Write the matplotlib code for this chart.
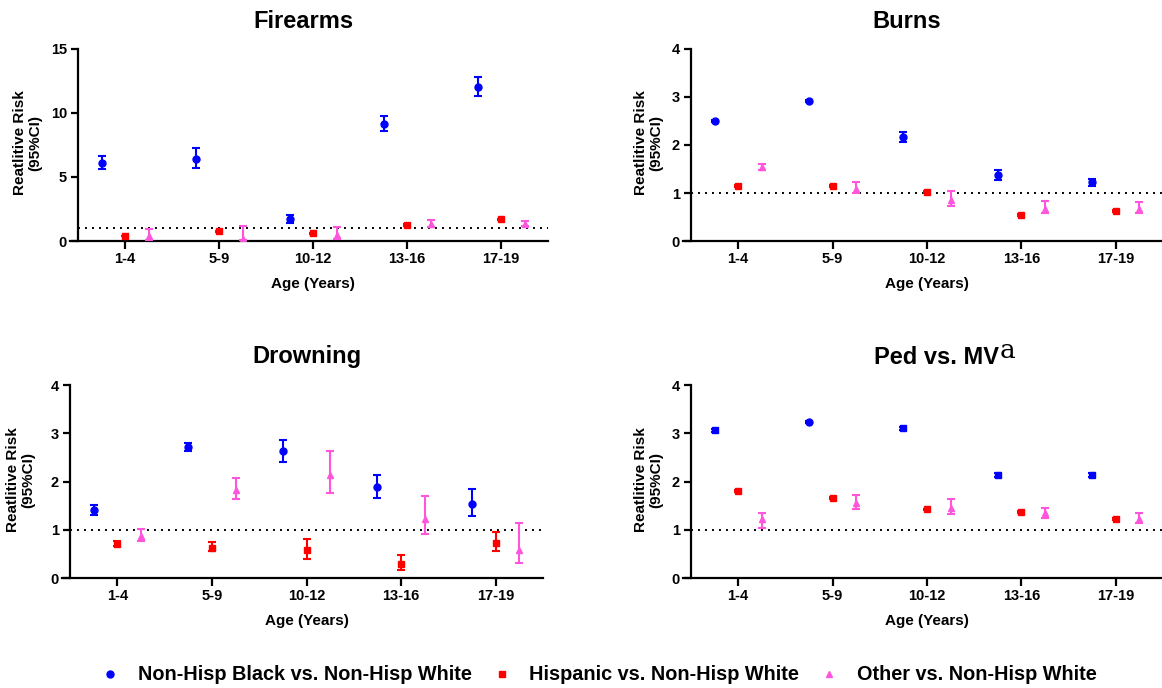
import numpy as np
import matplotlib
matplotlib.use('Agg')
import matplotlib.pyplot as plt
from matplotlib.lines import Line2D

plt.rcParams['font.family'] = ['Liberation Sans', 'DejaVu Sans']
plt.rcParams['font.weight'] = 'bold'
plt.rcParams['axes.labelweight'] = 'bold'

ages = ['1-4', '5-9', '10-12', '13-16', '17-19']
groups = ['Non-Hisp Black vs. Non-Hisp White',
          'Hispanic vs. Non-Hisp White',
          'Other vs. Non-Hisp White']

# Firearms: (value, lower CI, upper CI)
fire_black = [6.11, 6.43, 1.70, 9.15, 12.07]
fire_black_lo = [5.62, 5.70, 1.41, 8.57, 11.34]
fire_black_hi = [6.66, 7.24, 2.04, 9.77, 12.78]
fire_hisp = [0.39, 0.76, 0.60, 1.25, 1.70]
fire_hisp_lo = [0.36, 0.72, 0.57, 1.21, 1.65]
fire_hisp_hi = [0.42, 0.80, 0.63, 1.29, 1.75]
fire_other = [0.42, 0.18, 0.44, 1.36, 1.36]
fire_other_lo = [0.10, 0.05, 0.18, 1.10, 1.15]
fire_other_hi = [0.97, 1.15, 1.10, 1.65, 1.59]

# Burns
burn_black = [2.50, 2.91, 2.17, 1.38, 1.22]
burn_black_lo = [2.48, 2.89, 2.07, 1.28, 1.14]
burn_black_hi = [2.52, 2.93, 2.27, 1.47, 1.29]
burn_hisp = [1.15, 1.15, 1.02, 0.55, 0.63]
burn_hisp_lo = [1.13, 1.13, 0.99, 0.53, 0.61]
burn_hisp_hi = [1.17, 1.17, 1.05, 0.57, 0.65]
burn_other = [1.54, 1.09, 0.86, 0.67, 0.67]
burn_other_lo = [1.47, 0.99, 0.73, 0.59, 0.59]
burn_other_hi = [1.61, 1.22, 1.04, 0.83, 0.81]

# Drowning
drown_black = [1.41, 2.72, 2.63, 1.89, 1.54]
drown_black_lo = [1.31, 2.63, 2.41, 1.66, 1.28]
drown_black_hi = [1.51, 2.80, 2.86, 2.13, 1.84]
drown_hisp = [0.71, 0.63, 0.57, 0.28, 0.73]
drown_hisp_lo = [0.66, 0.55, 0.40, 0.17, 0.55]
drown_hisp_hi = [0.76, 0.75, 0.81, 0.48, 0.95]
drown_other = [0.87, 1.83, 2.13, 1.22, 0.58]
drown_other_lo = [0.77, 1.64, 1.76, 0.91, 0.31]
drown_other_hi = [1.02, 2.08, 2.63, 1.69, 1.15]

# Pedestrian vs. motor vehicle
ped_black = [3.06, 3.23, 3.10, 2.13, 2.13]
ped_black_lo = [3.03, 3.21, 3.07, 2.09, 2.09]
ped_black_hi = [3.09, 3.25, 3.13, 2.17, 2.17]
ped_black_markers = ['s', 'o', 's', 's', 's']
ped_hisp = [1.80, 1.65, 1.42, 1.36, 1.23]
ped_hisp_lo = [1.78, 1.63, 1.40, 1.34, 1.21]
ped_hisp_hi = [1.82, 1.67, 1.44, 1.38, 1.25]
ped_other = [1.22, 1.56, 1.46, 1.35, 1.22]
ped_other_lo = [1.04, 1.44, 1.33, 1.24, 1.13]
ped_other_hi = [1.35, 1.71, 1.64, 1.46, 1.35]

colors = ['#0000ff', '#ff0000', '#ff55dd']
markers = ['o', 's', '^']
msizes = [5, 5, 4.5]
offsets = [-0.25, 0.0, 0.25]

W, H = 1162, 688
fig = plt.figure(figsize=(W / 100, H / 100), dpi=100)


def add_ax(l, t, r, b):
    return fig.add_axes([l / W, 1 - b / H, (r - l) / W, (b - t) / H])


def style(ax, ymax, ystep):
    ax.set_xlim(-0.5, 4.5)
    ax.set_ylim(0, ymax)
    ax.set_yticks(np.arange(0, ymax + 0.01, ystep))
    ax.set_xticks(range(len(ages)))
    ax.set_xticklabels(ages)
    for s in ['top', 'right']:
        ax.spines[s].set_visible(False)
    for s in ['left', 'bottom']:
        ax.spines[s].set_linewidth(1.6)
    ax.spines['bottom'].set_bounds(-0.58, 4.5)
    ax.tick_params(axis='both', width=1.6, length=5, labelsize=10.5, pad=3)
    ax.tick_params(axis='x', length=6, pad=2)
    ax.axhline(1, color='black', lw=1.4, ls=(0, (1, 2.6)), zorder=1)
    ax.set_xlabel('Age (Years)', fontsize=11, fontweight='bold', labelpad=8)
    for lab in ax.get_xticklabels() + ax.get_yticklabels():
        lab.set_fontweight('bold')


def draw(ax, series, mk_override=None):
    x = np.arange(len(ages))
    for i, (v, lo, hi) in enumerate(series):
        v = np.array(v)
        yerr = [v - np.array(lo), np.array(hi) - v]
        ax.errorbar(x + offsets[i], v, yerr=yerr, fmt='none',
                    ecolor=colors[i], elinewidth=1.5, capsize=3,
                    capthick=1.5, zorder=3)
        mks = [markers[i]] * len(v)
        if i == 0 and mk_override is not None:
            mks = mk_override
        for xi, vi, m in zip(x + offsets[i], v, mks):
            ax.plot(xi, vi, marker=m, color=colors[i], ms=msizes[i],
                    ls='none', zorder=4)


ax1 = add_ax(78, 49, 548, 241)
style(ax1, 15, 5)
draw(ax1, [(fire_black, fire_black_lo, fire_black_hi),
           (fire_hisp, fire_hisp_lo, fire_hisp_hi),
           (fire_other, fire_other_lo, fire_other_hi)])

ax2 = add_ax(691, 49, 1163, 241)
style(ax2, 4, 1)
draw(ax2, [(burn_black, burn_black_lo, burn_black_hi),
           (burn_hisp, burn_hisp_lo, burn_hisp_hi),
           (burn_other, burn_other_lo, burn_other_hi)])

ax3 = add_ax(70, 385, 543, 578)
style(ax3, 4, 1)
draw(ax3, [(drown_black, drown_black_lo, drown_black_hi),
           (drown_hisp, drown_hisp_lo, drown_hisp_hi),
           (drown_other, drown_other_lo, drown_other_hi)])

ax4 = add_ax(691, 385, 1163, 578)
style(ax4, 4, 1)
draw(ax4, [(ped_black, ped_black_lo, ped_black_hi),
           (ped_hisp, ped_hisp_lo, ped_hisp_hi),
           (ped_other, ped_other_lo, ped_other_hi)],
     mk_override=ped_black_markers)

# titles
fig.text(303 / W, 1 - 21 / H, 'Firearms', ha='center', va='center',
         fontsize=17, fontweight='bold')
fig.text(907 / W, 1 - 21 / H, 'Burns', ha='center', va='center',
         fontsize=17, fontweight='bold')
fig.text(307 / W, 1 - 357 / H, 'Drowning', ha='center', va='center',
         fontsize=17, fontweight='bold')
fig.text(936 / W, 1 - 357 / H, 'Ped vs. MV', ha='center', va='center',
         fontsize=17, fontweight='bold')
fig.text(1000 / W, 1 - 350 / H, 'a', ha='left', va='center',
         fontsize=19, fontweight='normal', family='DejaVu Serif')

# y labels
ylab = 'Reatlitive Risk\n(95%CI)'
for cx, cy in [(28, 143), (649, 143), (21, 480), (649, 480)]:
    fig.text(cx / W, 1 - cy / H, ylab, rotation=90, ha='center',
             va='center', fontsize=11, fontweight='bold',
             multialignment='center', linespacing=1.1)

# legend
handles = [Line2D([], [], marker=markers[i], color=colors[i], ls='none',
                  ms=msizes[i]) for i in range(3)]
fig.legend(handles, groups, loc='center', ncol=3, frameon=False,
           bbox_to_anchor=(0.515, 1 - 675 / H),
           handletextpad=0.9, columnspacing=1.0, handlelength=1.0,
           prop={'weight': 'bold', 'size': 14.3})

fig.savefig('out.png', dpi=100)
